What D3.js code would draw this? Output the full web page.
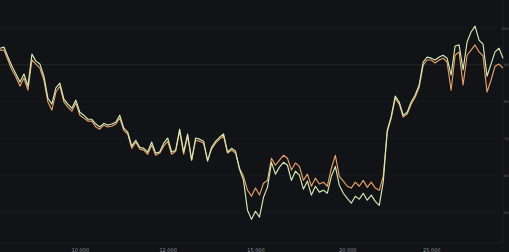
<!DOCTYPE html>
<html>
<head>
<meta charset="utf-8">
<script src="https://cdn.jsdelivr.net/npm/d3@7"></script>
<style>
  html, body { margin: 0; padding: 0; background: #111316; }
  svg { display: block; }
</style>
</head>
<body>
<svg id="chart"></svg>
<script>
// Data (one point per step)
const seriesGreen = [
  94.5, 94.8, 92.1, 89.6, 87.5, 85.3, 87.5, 84.2, 92.9, 91.0,
  90.2, 86.9, 80.9, 79.3, 83.7, 85.0, 80.7, 79.3, 78.2, 80.4,
  77.1, 76.3, 75.2, 75.2, 73.9, 73.1, 74.1, 73.6, 73.9, 74.4,
  76.3, 72.8, 71.7, 67.9, 69.5, 67.6, 67.3, 66.3, 69.0, 66.0,
  66.3, 68.7, 70.1, 66.3, 66.8, 72.5, 66.3, 71.2, 64.1, 70.1,
  69.8, 69.2, 63.8, 67.6, 69.2, 70.3, 71.2, 66.3, 67.3, 66.5,
  61.6, 58.6, 50.5, 48.0, 50.2, 48.6, 54.0, 56.7, 63.5, 60.3,
  62.2, 63.5, 62.7, 58.6, 61.1, 60.0, 56.2, 58.4, 54.6, 57.0,
  55.4, 55.9, 55.1, 59.7, 62.4, 57.3, 55.1, 53.7, 52.4, 54.3,
  53.5, 55.1, 53.2, 54.6, 52.9, 51.8, 58.1, 72.2, 76.0, 81.5,
  79.9, 76.3, 77.1, 79.9, 81.8, 84.5, 90.7, 92.1, 91.8, 91.3,
  92.1, 92.6, 91.8, 87.2, 95.1, 95.4, 88.6, 96.2, 98.9, 100.5,
  96.7, 95.6, 86.9, 90.2, 93.5, 94.5, 91.8
];
const seriesOrange = [
  94.0, 94.0, 91.3, 88.6, 86.7, 84.2, 86.4, 83.1, 91.3, 90.2,
  89.1, 85.8, 79.9, 77.7, 82.6, 84.2, 79.9, 78.5, 77.4, 79.6,
  76.3, 75.5, 74.7, 74.7, 73.1, 72.5, 73.6, 73.1, 73.3, 73.9,
  75.5, 72.2, 71.2, 67.3, 69.0, 67.1, 66.8, 65.7, 68.2, 65.4,
  66.0, 67.9, 69.2, 65.7, 66.5, 72.0, 65.7, 70.6, 64.1, 69.5,
  69.2, 68.7, 64.1, 67.1, 68.7, 69.8, 70.6, 66.0, 66.8, 66.0,
  61.9, 59.7, 55.9, 54.3, 56.5, 54.6, 57.8, 58.6, 64.6, 62.7,
  64.1, 65.4, 64.6, 61.4, 63.3, 62.4, 58.6, 60.3, 57.0, 59.2,
  57.6, 58.1, 57.0, 61.9, 65.4, 59.7, 58.4, 57.0, 56.5, 58.1,
  57.0, 58.6, 56.7, 58.1, 56.5, 55.9, 59.7, 71.7, 75.5, 80.9,
  79.3, 75.8, 76.6, 79.3, 81.2, 83.9, 89.9, 91.3, 91.3, 90.5,
  91.3, 91.8, 90.7, 83.1, 92.6, 93.5, 84.5, 92.6, 94.0, 95.4,
  93.5, 92.4, 82.6, 85.8, 89.6, 90.2, 89.1
];
const xTickSteps = [20, 42, 64, 87, 108];
const xTickLabels = ["10,000", "12,000", "15,000", "20,000", "25,000"];
const yTickValues = [100, 90, 80, 70, 60, 50];

const width = 509, height = 252;
const plot = { left: 0, right: 503, top: 0, bottom: 243 };

const svg = d3.select("#chart")
  .attr("width", width)
  .attr("height", height);

const x = d3.scaleLinear()
  .domain([0, seriesGreen.length - 1])
  .range([plot.left, plot.right]);

const y = d3.scaleLinear()
  .domain([50, 100])
  .range([212, 28]);

// gridlines (very faint)
svg.append("g")
  .selectAll("line")
  .data(yTickValues)
  .join("line")
  .attr("x1", plot.left)
  .attr("x2", plot.right)
  .attr("y1", d => y(d))
  .attr("y2", d => y(d))
  .attr("stroke", d => d === 90 ? "#24282c" : "#181b1f")
  .attr("stroke-width", 1);

// frame (bottom + right)
svg.append("path")
  .attr("d", `M${plot.left},${plot.bottom}H${plot.right}V${plot.top}`)
  .attr("fill", "none")
  .attr("stroke", "#1c1f23");

// x axis
const xAxis = d3.axisBottom(x)
  .tickValues(xTickSteps)
  .tickSize(0)
  .tickFormat((d, i) => xTickLabels[i]);

const gx = svg.append("g")
  .attr("transform", `translate(0,${plot.bottom + 2})`)
  .call(xAxis);
gx.select(".domain").remove();
gx.selectAll("text")
  .attr("fill", "#8a8f94")
  .style("font-family", "DejaVu Sans, sans-serif")
  .style("font-size", "5px");

// y axis at the right edge
const yAxis = d3.axisRight(y)
  .tickValues(yTickValues)
  .tickSize(0)
  .tickPadding(0);

const gy = svg.append("g")
  .attr("transform", `translate(${width - 0.5},0)`)
  .call(yAxis);
gy.select(".domain").remove();
gy.selectAll("text")
  .attr("text-anchor", "end")
  .attr("fill", "#6c7176")
  .style("font-family", "DejaVu Sans, sans-serif")
  .style("font-size", "3.5px");

// lines
const line = d3.line()
  .x((d, i) => x(i))
  .y(d => y(d));

svg.append("path")
  .datum(seriesOrange)
  .attr("fill", "none")
  .attr("stroke", "#e9a06a")
  .attr("stroke-width", 1.15)
  .attr("stroke-linejoin", "round")
  .attr("d", line);

svg.append("path")
  .datum(seriesGreen)
  .attr("fill", "none")
  .attr("stroke", "#d3ebb6")
  .attr("stroke-width", 1.15)
  .attr("stroke-linejoin", "round")
  .attr("d", line);
</script>
</body>
</html>
